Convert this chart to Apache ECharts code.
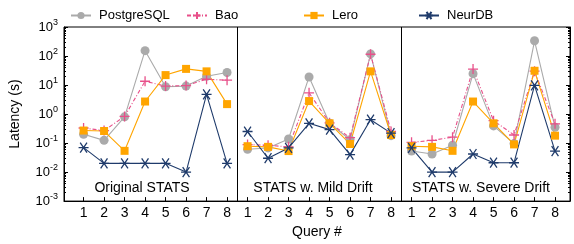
<!DOCTYPE html>
<html>
<head>
<meta charset="utf-8">
<script src="https://cdn.jsdelivr.net/npm/echarts@6/dist/echarts.min.js"></script>
<style>
  html, body { margin: 0; padding: 0; background: #fff; }
  #chart { width: 574px; height: 244px; }
</style>
</head>
<body>
<div id="chart"></div>
<script>
var queries = ['1', '2', '3', '4', '5', '6', '7', '8']
var panels = ['Original STATS', 'STATS w. Mild Drift', 'STATS w. Severe Drift']

// one row of 8 values per panel
var postgres = [
  [0.2, 0.124, 0.8, 153, 8.7, 9.2, 20, 27],
  [0.061, 0.068, 0.138, 19, 0.48, 0.13, 118, 0.18],
  [0.053, 0.042, 0.084, 24.7, 0.39, 0.096, 335, 0.35]
]
var bao = [
  [0.33, 0.27, 0.83, 13.5, 9.2, 9.6, 15.8, 14.7],
  [0.089, 0.084, 0.074, 5.4, 0.5, 0.153, 115, 0.25],
  [0.106, 0.124, 0.16, 35.6, 0.59, 0.19, 30, 0.46]
]
var lero = [
  [0.27, 0.26, 0.054, 2.7, 22, 36, 29.6, 2.2],
  [0.078, 0.074, 0.053, 2.8, 0.48, 0.093, 29.6, 0.19],
  [0.078, 0.074, 0.054, 2.7, 0.48, 0.09, 31, 0.18]
]
var neurdb = [
  [0.07, 0.02, 0.02, 0.02, 0.02, 0.01, 4.8, 0.02],
  [0.25, 0.03, 0.068, 0.48, 0.29, 0.04, 0.64, 0.22],
  [0.068, 0.01, 0.01, 0.042, 0.021, 0.021, 9.7, 0.053]
]

var FONT = '"Liberation Sans", Arial, Helvetica, sans-serif'
var n = queries.length
var xPositions = []
for (var p = 0; p < panels.length; p++) {
  for (var i = 0; i < n; i++) xPositions.push(p * n + i + 1)
}

function toPoints(rows) {
  var pts = []
  rows.forEach(function (row, p) {
    row.forEach(function (v, i) {
      pts.push([p * n + i + 1, v])
    })
    if (p < rows.length - 1) pts.push([p * n + n + 0.5, '-'])
  })
  return pts
}

var starPath = 'path://M0,5 L10,5 M1.6,0.6 L8.4,9.4 M1.6,9.4 L8.4,0.6'
var plusPath = 'path://M5,0 L5,10 M0,5 L10,5'

var seriesDefs = [
  { name: 'PostgreSQL', rows: postgres, color: '#aaaaaa', symbol: 'circle', size: 9, line: 'solid', stroke: false },
  { name: 'Bao', rows: bao, color: '#e8508a', symbol: plusPath, size: 10, line: [4, 2, 1, 2], stroke: true },
  { name: 'Lero', rows: lero, color: '#ffa500', symbol: 'rect', size: 8, line: 'solid', stroke: false },
  { name: 'NeurDB', rows: neurdb, color: '#1f3b6b', symbol: starPath, size: 10, line: 'solid', stroke: true }
]

var series = seriesDefs.map(function (d) {
  return {
    name: d.name,
    type: 'line',
    data: toPoints(d.rows),
    symbol: d.symbol,
    symbolSize: d.size,
    connectNulls: false,
    lineStyle: { color: d.color, width: 1.1, type: d.line },
    itemStyle: d.stroke
      ? { color: 'none', borderColor: d.color, borderWidth: 1.3 }
      : { color: d.color, borderWidth: 0 }
  }
})

// panel separators
series.push({
  type: 'line',
  data: [],
  markLine: {
    silent: true,
    symbol: 'none',
    label: { show: false },
    lineStyle: { color: '#000', type: 'solid', width: 1 },
    data: [{ xAxis: 8.52 }, { xAxis: 16.52 }]
  }
})

var legendLefts = [65, 181, 298, 413]
var legends = seriesDefs.map(function (d, k) {
  return {
    data: [d.name],
    left: legendLefts[k],
    top: 4,
    itemWidth: 20,
    itemHeight: 9,
    textStyle: { fontFamily: FONT, fontSize: 13, color: '#000', padding: [0, 0, 0, 3] }
  }
})

var panelCenters = [142, 313, 481]
var graphics = panels.map(function (t, k) {
  return {
    type: 'text',
    x: panelCenters[k],
    y: 188,
    style: { text: t, fontFamily: FONT, fontSize: 14, fill: '#000', align: 'center', verticalAlign: 'middle' }
  }
})

var yAxisBase = {
  type: 'log',
  logBase: 10,
  min: 0.001,
  max: 1000,
  axisLine: { show: true, lineStyle: { color: '#000', width: 1 } },
  splitLine: { show: false },
  axisTick: { show: true, inside: true, length: 4, lineStyle: { color: '#000' } },
  minorTick: { show: true, splitNumber: 9, length: 2, lineStyle: { color: '#000' } }
}

var option = {
  animation: false,
  textStyle: { fontFamily: FONT },
  legend: legends,
  grid: { left: 61, right: 4, top: 27, bottom: 40, show: true, borderColor: '#000', borderWidth: 1 },
  xAxis: {
    type: 'value',
    min: 0.045,
    max: 24.73,
    name: 'Query #',
    nameLocation: 'middle',
    nameGap: 22,
    nameTextStyle: { fontFamily: FONT, fontSize: 14, color: '#000' },
    axisLine: { show: true, lineStyle: { color: '#000' } },
    splitLine: { show: false },
    axisTick: { show: true, inside: true, length: 4, customValues: xPositions, lineStyle: { color: '#000' } },
    axisLabel: {
      customValues: xPositions,
      fontFamily: FONT,
      fontSize: 14,
      color: '#000',
      margin: 5,
      formatter: function (v) { return queries[(Math.round(v) - 1) % n] }
    }
  },
  yAxis: [
    Object.assign({}, yAxisBase, {
      position: 'left',
      name: 'Latency (s)',
      nameLocation: 'middle',
      nameGap: 42,
      nameTextStyle: { fontFamily: FONT, fontSize: 14, color: '#000' },
      axisLabel: {
        margin: 6,
        formatter: function (v) {
          var e = Math.round(Math.log10(v))
          return '{b|10}{s|' + e + '}'
        },
        rich: {
          b: { fontFamily: FONT, fontSize: 13, color: '#000' },
          s: { fontFamily: FONT, fontSize: 9, color: '#000', padding: [0, 0, 9, 0] }
        }
      }
    }),
    Object.assign({}, yAxisBase, {
      position: 'right',
      axisLabel: { show: false }
    })
  ],
  graphic: graphics,
  series: series
}

var chart = echarts.init(document.getElementById('chart'))
chart.setOption(option)
</script>
</body>
</html>
